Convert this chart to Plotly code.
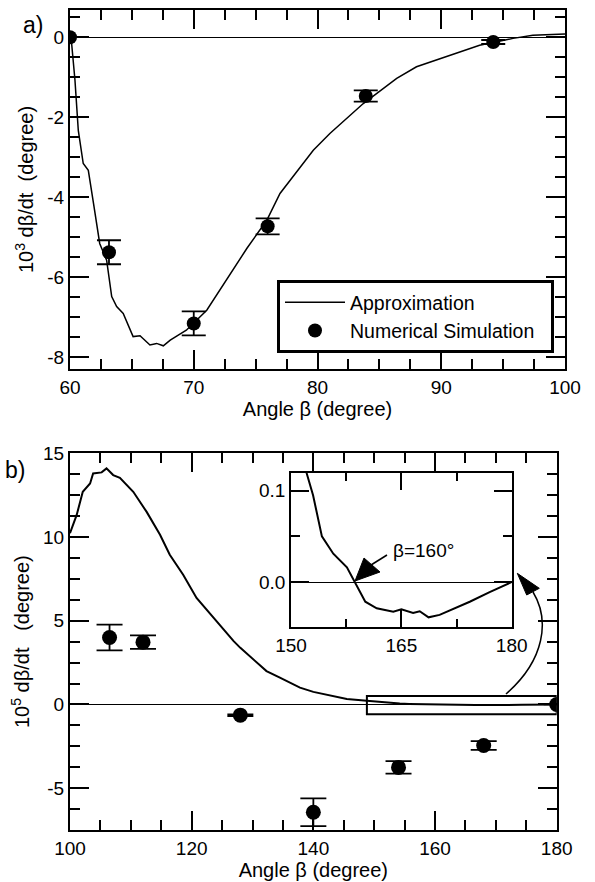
import plotly.graph_objects as go

# ---------------- data ----------------
# Panel a: approximation curve
beta_a = [60.0, 60.1, 60.4, 60.67, 61.07, 61.48, 61.9, 62.4, 62.96, 63.37, 63.77, 64.3, 65.1,
          65.66, 66.46, 67.0, 67.54, 68.1, 68.75, 69.4, 71.05, 72.7, 74.3, 75.9, 76.97,
          79.66, 81.0, 83.7, 86.4, 88.0, 90.4, 93.1, 95.8, 97.4, 100.0]
rate_a = [0.0, -0.05, -1.07, -2.33, -3.16, -3.33, -4.16, -5.16, -5.58, -6.49, -6.74, -6.91, -7.49,
          -7.47, -7.7, -7.66, -7.72, -7.58, -7.45, -7.33, -6.83, -6.03, -5.28, -4.58, -3.91,
          -2.83, -2.41, -1.66, -1.03, -0.74, -0.49, -0.2, -0.03, 0.05, 0.08]
# Panel a: numerical simulation points
sim_beta_a = [60.0, 63.15, 70.0, 75.97, 83.9, 94.2]
sim_rate_a = [0.0, -5.38, -7.16, -4.73, -1.47, -0.12]
sim_err_a = [0.0, 0.3, 0.3, 0.2, 0.14, 0.05]

# Panel b: approximation curve (also shown in inset)
beta_b = [100.0, 101.1, 102.1, 103.3, 103.8, 105.2, 106.0, 107.1, 108.2, 110.4, 112.6, 114.8,
          116.4, 118.6, 120.8, 123.6, 126.9, 128.0, 132.3, 134.5, 137.8, 140.0, 143.3, 145.5,
          148.8, 150.5, 152.1, 153.0, 154.2, 155.75, 157.6, 158.7, 160.1, 161.65, 163.9,
          165.0, 166.6, 167.5, 168.7, 170.2, 172.0, 174.3, 177.0, 180.0]
rate_b = [10.23, 11.32, 12.7, 13.2, 13.8, 13.86, 14.1, 13.7, 13.54, 12.7, 11.5, 10.13,
          8.94, 7.75, 6.36, 5.17, 3.78, 3.38, 1.99, 1.6, 1.0, 0.75, 0.5, 0.33,
          0.22, 0.16, 0.12, 0.095, 0.05, 0.031, 0.016, 0.0, -0.0216, -0.0288, -0.0325,
          -0.030, -0.034, -0.032, -0.0387, -0.036, -0.030, -0.0216, -0.011, 0.0]
# Panel b: numerical simulation points
sim_beta_b = [106.5, 112.0, 128.0, 140.0, 154.0, 168.0, 180.0]
sim_rate_b = [4.0, 3.72, -0.64, -6.44, -3.76, -2.45, 0.0]
sim_err_b = [0.77, 0.4, 0.05, 0.83, 0.37, 0.26, 0.0]

# tick labels
xa_ticks = [60, 70, 80, 90, 100]
ya_ticks = [0, -2, -4, -6, -8]
ya_text = ["0", "-2", "-4", "-6", "-8"]
xb_ticks = [100, 120, 140, 160, 180]
yb_ticks = [15, 10, 5, 0, -5]
yb_text = ["15", "10", "5", "0", "-5"]
xi_ticks = [150, 165, 180]
yi_ticks = [0.0, 0.1]
yi_text = ["0.0", "0.1"]

# ---------------- layout helpers ----------------
W, H = 595, 882
FONT = "Liberation Sans, Arial, Helvetica, sans-serif"


def px(x):
    return x / W


def py(y):
    return 1 - y / H


fig = go.Figure()

# Panel a
fig.add_trace(go.Scatter(x=beta_a, y=rate_a, mode="lines", name="Approximation",
                         line=dict(color="black", width=1.5), xaxis="x", yaxis="y"))
fig.add_trace(go.Scatter(x=sim_beta_a, y=sim_rate_a, mode="markers",
                         name="Numerical Simulation\u00a0\u00a0",
                         marker=dict(color="black", size=14),
                         error_y=dict(type="data", array=sim_err_a, color="black", thickness=1.8, width=12),
                         xaxis="x", yaxis="y"))
# Panel b
fig.add_trace(go.Scatter(x=beta_b, y=rate_b, mode="lines", showlegend=False,
                         line=dict(color="black", width=2), xaxis="x2", yaxis="y2"))
fig.add_trace(go.Scatter(x=sim_beta_b, y=sim_rate_b, mode="markers", showlegend=False,
                         marker=dict(color="black", size=15),
                         error_y=dict(type="data", array=sim_err_b, color="black", thickness=1.8, width=13),
                         xaxis="x2", yaxis="y2"))
# Inset
fig.add_trace(go.Scatter(x=beta_b, y=rate_b, mode="lines", showlegend=False,
                         line=dict(color="black", width=2), xaxis="x3", yaxis="y3"))

tickfont = dict(family=FONT, size=19, color="black")
titlefont = dict(family=FONT, size=20, color="black")


def ax_common(major_len, minor_dtick, minor_len=10, tick0=0):
    return dict(showline=True, linecolor="black", linewidth=2, mirror="ticks",
                ticks="inside", ticklen=major_len, tickwidth=1.5, tickcolor="black",
                showgrid=False, tickfont=tickfont, automargin=False,
                minor=dict(ticks="inside", ticklen=minor_len, tickwidth=1.5, tickcolor="black",
                           tickmode="linear", tick0=tick0, dtick=minor_dtick, showgrid=False))


xa = ax_common(19, 2.5)
xa.update(domain=[px(70), px(565)], range=[60, 100], anchor="y",
          tickmode="array", tickvals=xa_ticks, zeroline=False,
          title=dict(text="Angle β (degree)", font=titlefont, standoff=4))
ya = ax_common(19, 0.5)
ya.update(domain=[py(369), py(10)], range=[-8.3, 0.68], anchor="x",
          tickmode="array", tickvals=ya_ticks, ticktext=ya_text,
          zeroline=True, zerolinecolor="black", zerolinewidth=1.2,
          title=dict(text="10<sup>3</sup> dβ/dt\u00a0\u00a0(degree)", font=titlefont, standoff=8))

xb = ax_common(19, 5)
xb.update(domain=[px(70), px(556.7)], range=[100, 180], anchor="y2",
          tickmode="array", tickvals=xb_ticks, zeroline=False,
          title=dict(text="Angle β (degree)", font=titlefont, standoff=0))
yb = ax_common(19, 1.25)
yb.update(domain=[py(830), py(453.3)], range=[-7.5, 15], anchor="x2",
          tickmode="array", tickvals=yb_ticks, ticktext=yb_text,
          zeroline=True, zerolinecolor="black", zerolinewidth=1.2,
          title=dict(text="10<sup>5</sup> dβ/dt\u00a0\u00a0\u00a0(degree)", font=titlefont, standoff=8))

xi = ax_common(18, 7.5, 9, tick0=150)
xi.update(domain=[px(291), px(511.7)], range=[150, 180], anchor="y3", linewidth=1.5,
          tickmode="array", tickvals=xi_ticks, zeroline=False)
yi = ax_common(18, 0.05, 9)
yi.update(domain=[py(627.3), py(472.7)], range=[-0.0496, 0.1197], anchor="x3", linewidth=1.5,
          tickmode="array", tickvals=yi_ticks, ticktext=yi_text,
          zeroline=True, zerolinecolor="black", zerolinewidth=1.2)

# decorations: zoom rectangle, arrows
shapes = [
    dict(type="rect", xref="x2", yref="y2", x0=148.8, x1=180, y0=-0.58, y1=0.5,
         line=dict(color="black", width=2)),
]

# curved arrow (paper coordinates)
p0, c1, c2, p1 = (506, 694), (545, 660), (550, 620), (533, 592)
curve = "M {},{} C {},{} {},{} {},{}".format(px(p0[0]), py(p0[1]), px(c1[0]), py(c1[1]),
                                             px(c2[0]), py(c2[1]), px(p1[0]), py(p1[1]))
shapes.append(dict(type="path", xref="paper", yref="paper", path=curve,
                   line=dict(color="black", width=1.5)))


def tri_path(t):
    return "M {},{} L {},{} L {},{} Z".format(px(t[0][0]), py(t[0][1]), px(t[1][0]), py(t[1][1]),
                                             px(t[2][0]), py(t[2][1]))


# arrowhead of curved arrow
shapes.append(dict(type="path", xref="paper", yref="paper",
                   path=tri_path([(517.3, 573.3), (526.7, 595), (539.3, 588.3)]),
                   fillcolor="black", line=dict(color="black", width=1)))
# beta=160 arrow
shapes.append(dict(type="path", xref="paper", yref="paper",
                   path=tri_path([(355, 581), (364, 558), (380, 572)]),
                   fillcolor="black", line=dict(color="black", width=1)))
shapes.append(dict(type="line", xref="paper", yref="paper", x0=px(371), y0=py(565), x1=px(387), y1=py(555),
                   line=dict(color="black", width=1.5)))

annotations = [
    dict(text="a)", x=px(33), y=py(25), xref="paper", yref="paper", showarrow=False,
         xanchor="center", yanchor="middle", font=dict(family=FONT, size=23, color="black")),
    dict(text="b)", x=px(15), y=py(470), xref="paper", yref="paper", showarrow=False,
         xanchor="center", yanchor="middle", font=dict(family=FONT, size=23, color="black")),
    dict(text="β=160°", x=px(423), y=py(550), xref="paper", yref="paper", showarrow=False,
         xanchor="center", yanchor="middle", font=dict(family=FONT, size=19, color="black")),
]

fig.update_layout(
    width=W, height=H, margin=dict(l=0, r=0, t=0, b=0, pad=0, autoexpand=False),
    paper_bgcolor="white", plot_bgcolor="white",
    font=dict(family=FONT, color="black"),
    xaxis=xa, yaxis=ya, xaxis2=xb, yaxis2=yb, xaxis3=xi, yaxis3=yi,
    shapes=shapes, annotations=annotations,
    legend=dict(x=px(277), y=py(280), xanchor="left", yanchor="top",
                bordercolor="black", borderwidth=3, bgcolor="white",
                font=dict(family=FONT, size=19.5, color="black"),
                itemwidth=60, tracegroupgap=0),
)

fig.write_html("out.html")
